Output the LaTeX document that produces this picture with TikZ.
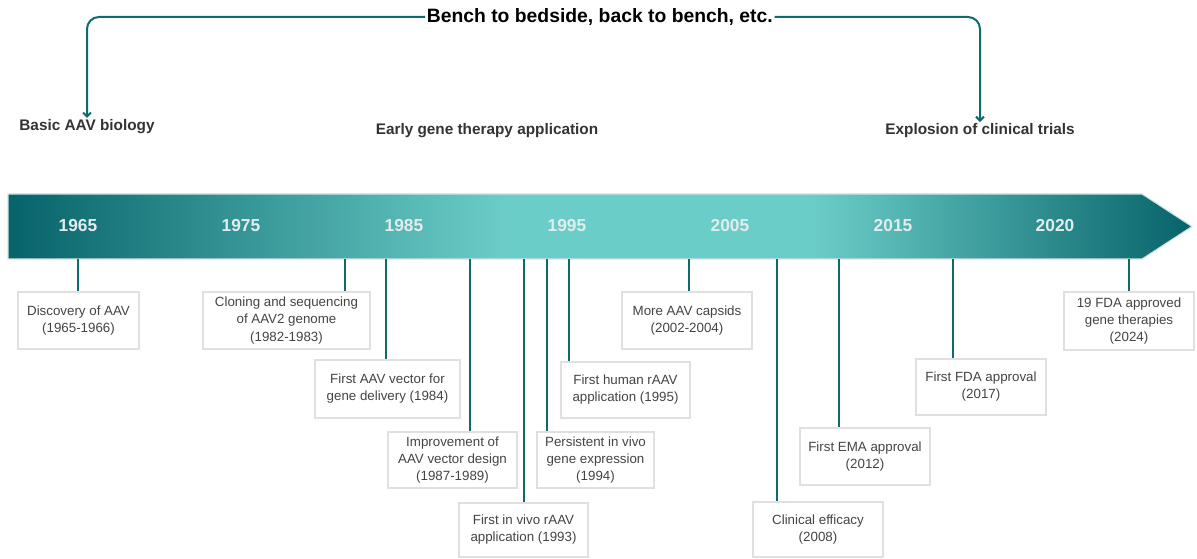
\documentclass[tikz,border=0pt]{standalone}
\usepackage{fontspec}
\setmainfont{Liberation Sans}
\usetikzlibrary{arrows.meta}

\definecolor{tealline}{HTML}{0F6A6C}
\definecolor{banddark}{HTML}{07636A}
\definecolor{bandlight}{HTML}{6BCDC7}
\definecolor{bandedge}{HTML}{CFE3E3}
\definecolor{yeartext}{HTML}{E2ECEC}
\definecolor{boxedge}{HTML}{E0E0E0}
\definecolor{boxtext}{HTML}{444444}
\definecolor{headtext}{HTML}{333333}

\pgfdeclarehorizontalshading{bandshade}{100bp}{color(0bp)=(banddark); color(25bp)=(banddark); color(46bp)=(bandlight); color(59bp)=(bandlight); color(75bp)=(banddark); color(100bp)=(banddark)}

\tikzset{every picture/.style={line width=0.75pt}}
\tikzset{
  evtbox/.style={draw=boxedge, line width=1.2pt, fill=white, text=boxtext, align=center,
    inner sep=0pt, font=\fontsize{10}{12.8}\selectfont},
  yearlbl/.style={text=yeartext, font=\fontsize{13}{15}\selectfont\bfseries},
  headlbl/.style={text=headtext, inner sep=1pt, font=\fontsize{11.5}{13}\selectfont\bfseries},
  tick/.style={draw=tealline, line width=1.5pt},
  bracket/.style={draw=tealline, line width=1.5pt, rounded corners=9pt, -{Straight Barb[length=3pt,width=6pt]}},
}

\begin{document}
\begin{tikzpicture}[x=0.75pt,y=0.75pt,yscale=-1,xscale=1]
    \useasboundingbox (0,0) rectangle (1197,559);
    %Title and bracket
    \node[anchor=west, inner sep=1pt, font=\fontsize{14.5}{16}\selectfont\bfseries] (title) at (425,17) {Bench to bedside, back to bench, etc.};
    \node[headlbl] (basic) at (87,127) {Basic AAV biology};
    \node[headlbl] (early) at (487,131) {Early gene therapy application};
    \node[headlbl] (explosion) at (980,131) {Explosion of clinical trials};
    \draw[bracket] (title.west) -| (basic.north);
    \draw[bracket] (title.east) -| (explosion.north);
    %Timeline band
    \path[shading=bandshade, draw=bandedge, line width=0.8pt] (8,194) -- (1142,194) -- (1192,226.5) -- (1142,259) -- (8,259) -- cycle;
    %Years
    \node[yearlbl] (y1965) at (78,226) {1965};
    \node[yearlbl] (y1975) at (241,226) {1975};
    \node[yearlbl] (y1985) at (404,226) {1985};
    \node[yearlbl] (y1995) at (567,226) {1995};
    \node[yearlbl] (y2005) at (730,226) {2005};
    \node[yearlbl] (y2015) at (893,226) {2015};
    \node[yearlbl] (y2020) at (1055,226) {2020};
    %Tick roots on the band
    \coordinate (t1) at (78,259);
    \coordinate (t2) at (345,259);
    \coordinate (t3) at (386,259);
    \coordinate (t4) at (470,259);
    \coordinate (t5) at (524,259);
    \coordinate (t6) at (547,259);
    \coordinate (t7) at (569,259);
    \coordinate (t8) at (689,259);
    \coordinate (t9) at (777,259);
    \coordinate (t10) at (839,259);
    \coordinate (t11) at (953,259);
    \coordinate (t12) at (1129,259);
    %Event boxes
    \node[evtbox, minimum width=90.75pt, minimum height=42.75pt] (b1) at (78.5,320.5) {Discovery of AAV\\(1965-1966)};
    \node[evtbox, minimum width=125.25pt, minimum height=42.75pt] (b2) at (286.5,320.5) {Cloning and sequencing\\of AAV2 genome\\(1982-1983)};
    \node[evtbox, minimum width=108.75pt, minimum height=43.5pt] (b3) at (387.5,389) {First AAV vector for\\gene delivery (1984)};
    \node[evtbox, minimum width=96.75pt, minimum height=42pt] (b4) at (452.5,460) {Improvement of\\AAV vector design\\(1987-1989)};
    \node[evtbox, minimum width=96.75pt, minimum height=40.5pt] (b5) at (523.5,530) {First in vivo rAAV\\application (1993)};
    \node[evtbox, minimum width=87.75pt, minimum height=42pt] (b6) at (595.5,460) {Persistent in vivo\\gene expression\\(1994)};
    \node[evtbox, minimum width=96.75pt, minimum height=42pt] (b7) at (625.5,390) {First human rAAV\\application (1995)};
    \node[evtbox, minimum width=97.5pt, minimum height=42.75pt] (b8) at (687,320.5) {More AAV capsids\\(2002-2004)};
    \node[evtbox, minimum width=97.5pt, minimum height=41.25pt] (b9) at (818,529.5) {Clinical efficacy\\(2008)};
    \node[evtbox, minimum width=97.5pt, minimum height=42.75pt] (b10) at (865,456.5) {First EMA approval\\(2012)};
    \node[evtbox, minimum width=97.5pt, minimum height=42pt] (b11) at (981,387) {First FDA approval\\(2017)};
    \node[evtbox, minimum width=97.5pt, minimum height=43.5pt] (b12) at (1129,321) {19 FDA approved\\gene therapies\\(2024)};
    %Ticks down to the boxes
    \draw[tick] (t1) -- (t1 |- b1.north);
    \draw[tick] (t2) -- (t2 |- b2.north);
    \draw[tick] (t3) -- (t3 |- b3.north);
    \draw[tick] (t4) -- (t4 |- b4.north);
    \draw[tick] (t5) -- (t5 |- b5.north);
    \draw[tick] (t6) -- (t6 |- b6.north);
    \draw[tick] (t7) -- (t7 |- b7.north);
    \draw[tick] (t8) -- (t8 |- b8.north);
    \draw[tick] (t9) -- (t9 |- b9.north);
    \draw[tick] (t10) -- (t10 |- b10.north);
    \draw[tick] (t11) -- (t11 |- b11.north);
    \draw[tick] (t12) -- (t12 |- b12.north);
  \end{tikzpicture}
\end{document}
